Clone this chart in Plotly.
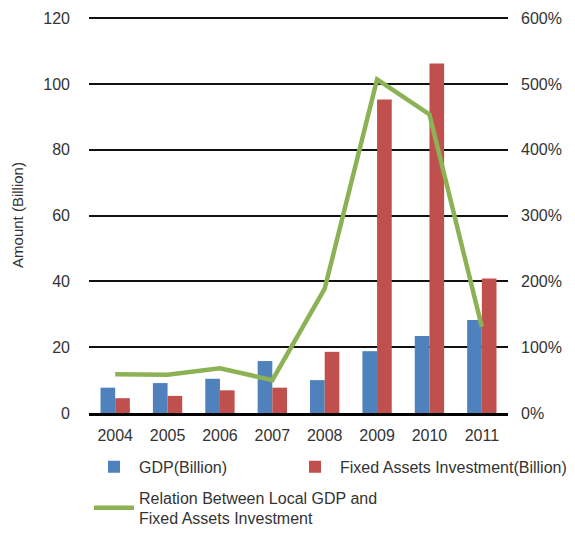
import plotly.graph_objects as go

years = ["2004", "2005", "2006", "2007", "2008", "2009", "2010", "2011"]
gdp = [7.7, 9.1, 10.4, 15.8, 10.0, 18.8, 23.4, 28.3]
fai = [4.5, 5.2, 6.9, 7.7, 18.6, 95.3, 106.3, 40.9]
relation = [59, 58, 68, 50, 189, 507, 454, 131]

left_ticks = [0, 20, 40, 60, 80, 100, 120]
right_ticks = [0, 100, 200, 300, 400, 500, 600]
right_tick_labels = ["0%", "100%", "200%", "300%", "400%", "500%", "600%"]

FONT = "Liberation Sans, Arial, sans-serif"
TXT = "#333333"

fig = go.Figure()
fig.add_trace(go.Bar(x=years, y=gdp, name="GDP(Billion)", marker_color="#4F81BD",
                     marker_line_width=0, legend="legend"))
fig.add_trace(go.Bar(x=years, y=fai, name="Fixed Assets Investment(Billion)",
                     marker_color="#C0504D", marker_line_width=0, legend="legend3"))
fig.add_trace(go.Scatter(x=years, y=relation, yaxis="y2", mode="lines",
                         name="Relation Between Local GDP and<br>Fixed Assets Investment",
                         line=dict(color="#8DB255", width=4.5), legend="legend2"))

legend_common = dict(orientation="h", xanchor="left", yanchor="middle",
                     font=dict(size=16, color=TXT), itemwidth=40,
                     bgcolor="rgba(0,0,0,0)")

fig.update_layout(
    width=575, height=533,
    margin=dict(l=81, r=63, t=9, b=128, autoexpand=False),
    paper_bgcolor="white", plot_bgcolor="white",
    font=dict(family=FONT, size=16, color=TXT),
    barmode="group", bargap=0.44, bargroupgap=0,
    showlegend=True,
    legend=dict(x=0.0, y=-0.136, **legend_common),
    legend3=dict(x=0.4664, y=-0.136, **legend_common),
    legend2=dict(x=0.0, y=-0.24, **legend_common),
    xaxis=dict(domain=[0, 0.9722], showgrid=False, showline=True, linecolor="black",
               linewidth=3, ticks="", tickfont=dict(size=16), ticklabelstandoff=6),
    yaxis=dict(range=[0, 120.4], tickvals=left_ticks, showgrid=True, gridcolor="#111111",
               gridwidth=1.5, zeroline=False, showline=False, ticks="",
               tickfont=dict(size=16), ticklabelstandoff=18,
               title=dict(text="Amount (Billion)", font=dict(size=15), standoff=16)),
    yaxis2=dict(range=[0, 602], tickvals=right_ticks, ticktext=right_tick_labels,
                overlaying="y", side="right", anchor="free", position=1.0,
                showgrid=False, zeroline=False, showline=False, ticks="",
                tickfont=dict(size=16)),
)

fig.write_html("out.html")
